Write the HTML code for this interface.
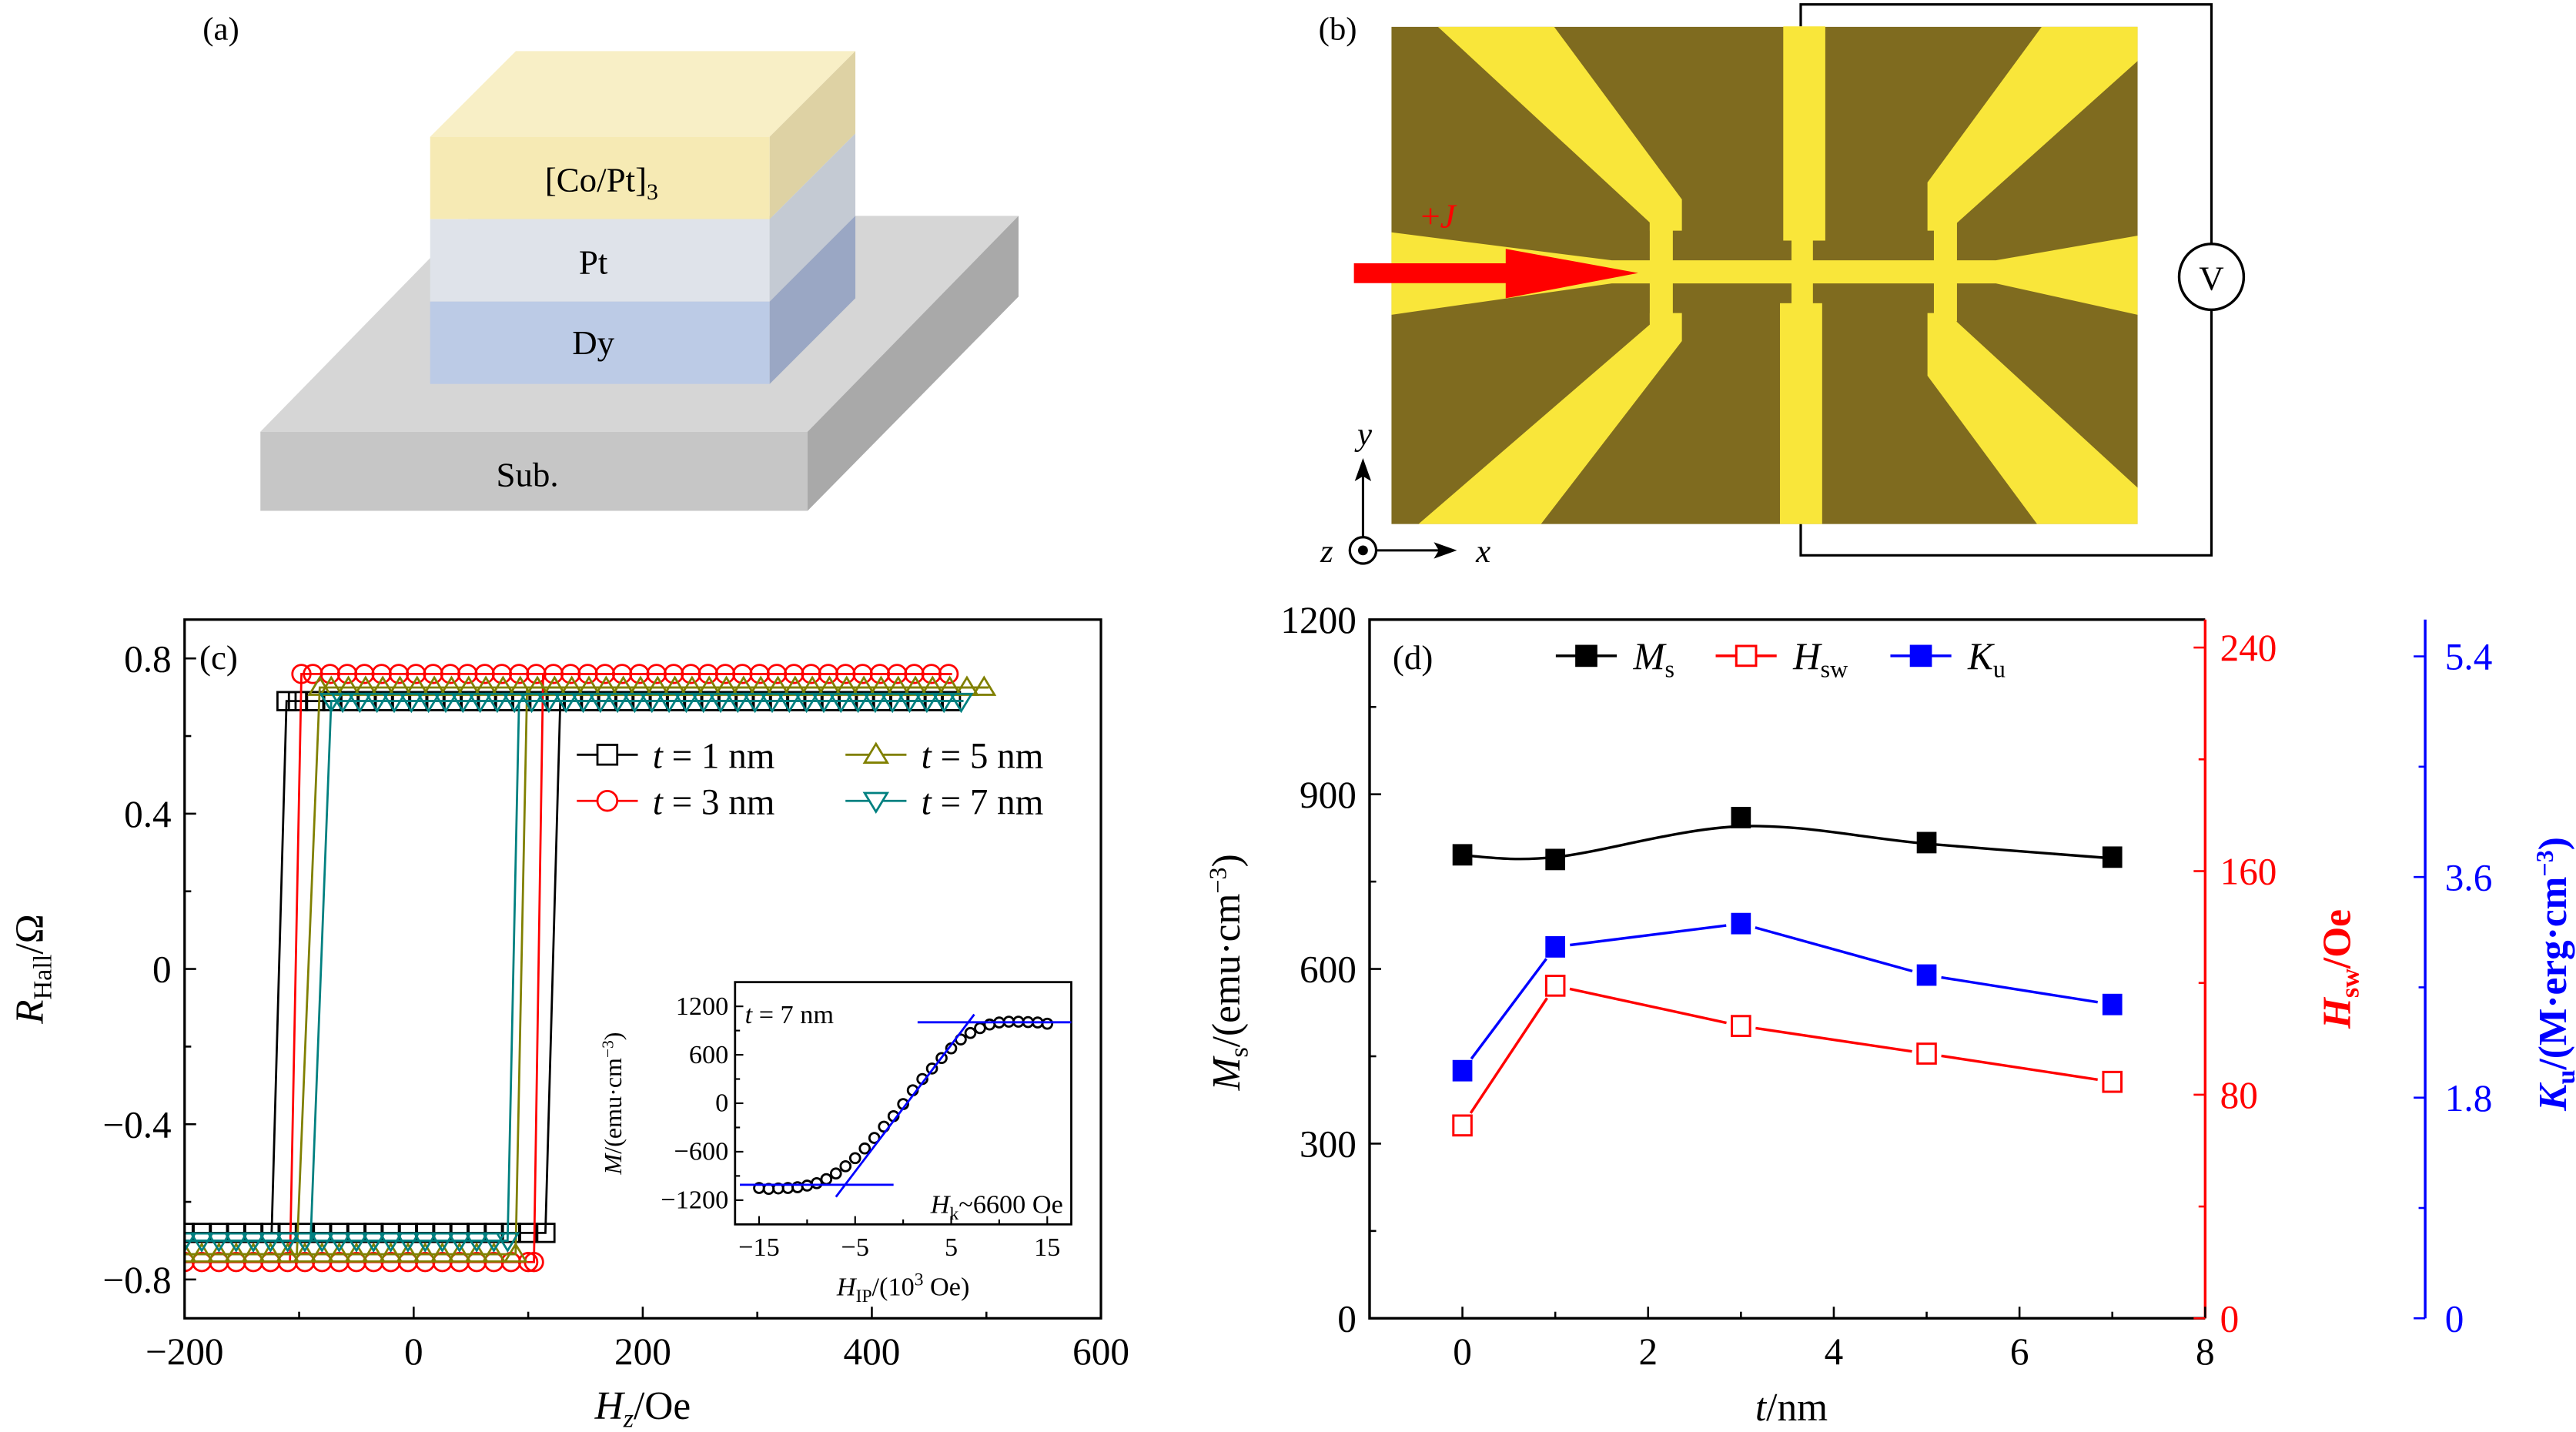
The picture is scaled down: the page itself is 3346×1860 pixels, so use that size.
<!DOCTYPE html>
<html><head><meta charset="utf-8">
<style>
html,body{margin:0;padding:0;background:#fff;}
svg{display:block;font-family:"Liberation Serif",serif;}
</style></head>
<body>
<svg id="fig" width="3346" height="1860" viewBox="0 0 1563 869" preserveAspectRatio="none" xmlns="http://www.w3.org/2000/svg">
<!-- Panel (a) -->
<g>
<text x="123" y="24" font-size="20">(a)</text>
<polygon points="158,262 490,262 618,131 286,131" fill="#d6d6d6"/>
<polygon points="158,262 490,262 490,310 158,310" fill="#c6c6c6"/>
<polygon points="490,262 618,131 618,180 490,310" fill="#a9a9a9"/>
<text x="320" y="295" font-size="21" text-anchor="middle">Sub.</text>
<polygon points="261,83 467,83 519,31 313,31" fill="#f8efc6"/>
<rect x="261" y="83" width="206" height="50" fill="#f6eab4"/>
<polygon points="467,83 519,31 519,81 467,133" fill="#ded2a4"/>
<rect x="261" y="133" width="206" height="50" fill="#dfe3ea"/>
<polygon points="467,133 519,81 519,131 467,183" fill="#c4cad3"/>
<rect x="261" y="183" width="206" height="50" fill="#bccbe6"/>
<polygon points="467,183 519,131 519,181 467,233" fill="#9aa7c4"/>
<text x="365" y="116" font-size="21" text-anchor="middle">[Co/Pt]<tspan font-size="14" dy="5">3</tspan></text>
<text x="360" y="166" font-size="21" text-anchor="middle">Pt</text>
<text x="360" y="215" font-size="21" text-anchor="middle">Dy</text>
</g>
<!-- Panel (b) -->
<g>
<text x="800" y="24" font-size="20">(b)</text>
<polyline points="1092.6,16 1092.6,2.7 1341.8,2.7 1341.8,148" fill="none" stroke="#000" stroke-width="1.5"/>
<polyline points="1341.8,188 1341.8,337 1092.6,337 1092.6,318" fill="none" stroke="#000" stroke-width="1.5"/>
<rect x="844.3" y="16.3" width="452.7" height="301.7" fill="#7f6b1f"/>
<g fill="#f9e63a">
<polygon points="844.3,141 978,158 1211,158 1297,143 1297,191 1211,172 978,172 844.3,191"/>
<polygon points="872.5,16.3 943,16.3 1020.5,121 1020.5,140 1001,140 1001,135"/>
<polygon points="1001,190 1020.5,190 1020.5,207 935,318 860.7,318 1001,197"/>
<polygon points="1238.8,16.3 1297,16.3 1297,37 1187,135.6 1187,140 1169.5,140 1169.5,110.7"/>
<polygon points="1169.5,190 1187,190 1187,195 1297,296 1297,318 1236,318 1169.5,228"/>
<rect x="1001" y="135" width="14" height="60"/>
<rect x="1173.4" y="135" width="14" height="60"/>
<rect x="1082" y="16" width="25.5" height="130"/>
<rect x="1087" y="140" width="13" height="50"/>
<rect x="1080" y="184" width="25.6" height="134"/>
</g>
<polygon points="821.5,159.8 913.6,159.8 913.6,151 994,165.7 913.6,181 913.6,171.8 821.5,171.8" fill="#ff0000"/>
<text x="862" y="138" font-size="21" fill="#ff0000">+<tspan font-style="italic">J</tspan></text>
<ellipse cx="1341.8" cy="168" rx="19.6" ry="20" fill="#fff" stroke="#000" stroke-width="1.6"/>
<text x="1341.8" y="176" font-size="21" text-anchor="middle">V</text>
<circle cx="827" cy="334" r="8" fill="#fff" stroke="#000" stroke-width="1.5"/>
<circle cx="827" cy="334" r="3" fill="#000"/>
<line x1="827" y1="326" x2="827" y2="286" stroke="#000" stroke-width="1.4"/>
<polygon points="827,278 822,292 827,289 832,292" fill="#000"/>
<line x1="835" y1="334" x2="875" y2="334" stroke="#000" stroke-width="1.4"/>
<polygon points="884,334 870,329 873,334 870,339" fill="#000"/>
<text x="828" y="270" font-size="20" font-style="italic" text-anchor="middle">y</text>
<text x="805" y="341" font-size="20" font-style="italic" text-anchor="middle">z</text>
<text x="900" y="341" font-size="20" font-style="italic" text-anchor="middle">x</text>
</g>
<g id="pc"></g>
<g id="pd"></g>
</svg>
<script>
// ===== Panel (c) data =====
const cLabels = ['1', '3', '5', '7'];
const cColors = ['#000000', '#ff0000', '#808000', '#008080'];
const cMarkers = ['square', 'circle', 'triUp', 'triDown'];
const cTop = [0.69, 0.76, 0.725, 0.69];
const cBot = [-0.68, -0.755, -0.735, -0.70];
const cLeftTopH = [-111, -98, -82, -72];
const cLeftBotH = [-124, -108, -102, -90];
const cRightBotH = [115, 105, 89, 82];
const cRightTopH = [128, 113, 99, 92];
const cEndH = [480, 470, 502, 480];
const cXTicks = [-200, 0, 200, 400, 600];
const cYTicks = [0.8, 0.4, 0, -0.4, -0.8];
// inset
const inH = [-15,-14,-13,-12,-11,-10,-9,-8,-7,-6,-5,-4,-3,-2,-1,0,1,2,3,4,5,6,7,8,9,10,11,12,13,14,15];
const inM = [-1050,-1060,-1055,-1050,-1040,-1020,-990,-940,-870,-780,-680,-560,-430,-290,-160,-10,160,300,430,560,680,790,870,930,975,1000,1010,1010,1005,1000,985];
const inXTicks = [-15, -5, 5, 15];
const inYTicks = [1200, 600, 0, -600, -1200];
// ===== Panel (d) data =====
const dT = [0, 1, 3, 5, 7];
const dMs = [796, 788, 860, 817, 792];
const dMsFit = [795, 792, 845, 815, 790];
const dHsw = [69, 119, 104.6, 94.7, 84.6];
const dKu = [2.02, 3.03, 3.22, 2.80, 2.56];
const dXTicks = [0, 2, 4, 6, 8];
const dYTicks = [0, 300, 600, 900, 1200];
const dRTicks = [0, 80, 160, 240];
const dBTicks = [0, 1.8, 3.6, 5.4];

const NS = 'http://www.w3.org/2000/svg';
function mk(tag, parent, a) { const e = document.createElementNS(NS, tag); for (const k in a) e.setAttribute(k, a[k]); parent.appendChild(e); return e; }
function fmt(v) { return (v < 0 ? '\u2212' : '') + Math.abs(v); }

// ---------- Panel c ----------
const pc = document.getElementById('pc');
const cL = 112, cR = 668, cT = 376, cB = 800;
const cx = h => cL + (h + 200) / 800 * (cR - cL);
const cy = r => cT + (0.9 - r) / 1.8 * (cB - cT);
let el;
el = mk('clipPath', pc, {id: 'clipc'});


mk('rect', el, {x: cL, y: cT, width: cR - cL, height: cB - cT});
const cPlot = mk('g', pc, {'clip-path': 'url(#clipc)'});



function marker(parent, type, x, y, color, s) {
  let m;
  if (type === 'square') m = mk('rect', parent, {x: x - s, y: y - s, width: 2 * s, height: 2 * s});
  else if (type === 'circle') m = mk('circle', parent, {cx: x, cy: y, r: s});
  else if (type === 'triUp') m = mk('polygon', parent, {points: `${x},${y - s * 1.1} ${x - s * 1.15},${y + s * 0.8} ${x + s * 1.15},${y + s * 0.8}`});
  else m = mk('polygon', parent, {points: `${x},${y + s * 1.1} ${x - s * 1.15},${y - s * 0.8} ${x + s * 1.15},${y - s * 0.8}`});
  m.setAttribute('fill', 'none');
  m.setAttribute('stroke', color);
  m.setAttribute('stroke-width', '1.3');
  return m;
}

for (let i = 0; i < cLabels.length; i++) {
  const g = mk('g', cPlot, {});
  
  
  const pts = [[-210, cBot[i]], [cRightBotH[i], cBot[i]], [cRightTopH[i], cTop[i]], [cEndH[i], cTop[i]]];
  const pts2 = [[cEndH[i], cTop[i]], [cLeftTopH[i], cTop[i]], [cLeftBotH[i], cBot[i]], [-210, cBot[i]]];
  el = mk('polyline', g, {points: pts.map(p => cx(p[0]) + ',' + cy(p[1])).join(' '), fill: 'none', stroke: cColors[i], 'stroke-width': 1.3});
  
  
  el = mk('polyline', g, {points: pts2.map(p => cx(p[0]) + ',' + cy(p[1])).join(' '), fill: 'none', stroke: cColors[i], 'stroke-width': 1.3});
  
  
  const s = 5.5;
  for (let h = -200; h <= cRightBotH[i] - 5; h += 15) {
    el = marker(g, cMarkers[i], cx(h), cy(cBot[i]), cColors[i], s);
    
    
  }
  el = marker(g, cMarkers[i], cx(cRightBotH[i]), cy(cBot[i]), cColors[i], s);
  
  
  el = marker(g, cMarkers[i], cx(cLeftTopH[i]), cy(cTop[i]), cColors[i], s);
  
  
  for (let h = cLeftTopH[i] + 10; h <= cEndH[i]; h += 15) {
    el = marker(g, cMarkers[i], cx(h), cy(cTop[i]), cColors[i], s);
    
    
  }
}
el = mk('rect', pc, {x: cL, y: cT, width: cR - cL, height: cB - cT, fill: 'none', stroke: '#000', 'stroke-width': 1.5});


for (let v = -200; v <= 600; v += 100) {
  const major = cXTicks.includes(v);
  el = mk('line', pc, {x1: cx(v), x2: cx(v), y1: cB, y2: cB - (major ? 7 : 4), stroke: '#000', 'stroke-width': 1.2});
  
  
}
cXTicks.forEach(v => {
  el = mk('text', pc, {x: cx(v), y: 828, 'font-size': 23, 'text-anchor': 'middle'});
  el.textContent = fmt(v);
  
  
});
for (let k = -8; k <= 8; k += 2) {
  const v = k / 10;
  const major = k % 4 === 0;
  el = mk('line', pc, {x1: cL, x2: cL + (major ? 7 : 4), y1: cy(v), y2: cy(v), stroke: '#000', 'stroke-width': 1.2});
  
  
}
cYTicks.forEach(v => {
  el = mk('text', pc, {x: cL - 8, y: cy(v) + 8, 'font-size': 23, 'text-anchor': 'end'});
  el.textContent = fmt(v);
  
  
});
el = mk('text', pc, {x: 121, y: 406, 'font-size': 21});
el.textContent = '(c)';


el = mk('text', pc, {x: 390, y: 861, 'font-size': 24, 'text-anchor': 'middle'});
el.innerHTML = '<tspan font-style="italic">H</tspan><tspan font-style="italic" font-size="16" dy="5">z</tspan><tspan dy="-5">/Oe</tspan>';


el = mk('text', pc, {x: 0, y: 0, 'font-size': 24, 'text-anchor': 'middle', transform: 'translate(26,588) rotate(-90)'});
el.innerHTML = '<tspan font-style="italic">R</tspan><tspan font-size="16" dy="5">Hall</tspan><tspan dy="-5">/Ω</tspan>';


// legend c
const legPos = [[350, 458], [350, 486], [513, 458], [513, 486]];
for (let i = 0; i < 4; i++) {
  const [lx, ly] = legPos[i];
  const g = mk('g', pc, {});
  
  
  el = mk('line', g, {x1: lx, x2: lx + 37, y1: ly, y2: ly, stroke: cColors[i], 'stroke-width': 1.3});
  
  
  el = marker(g, cMarkers[i], lx + 18.5, ly, cColors[i], 6);
  el.setAttribute('fill', '#fff');
  
  
  el = mk('text', g, {x: lx + 46, y: ly + 8, 'font-size': 22});
  el.innerHTML = '<tspan font-style="italic">t</tspan> = ' + cLabels[i] + ' nm';
  
  
}
// inset
const iL = 446, iR = 650, iT = 596, iB = 743;
const ix = h => iL + (h + 17.5) / 35 * (iR - iL);
const iy = m => iT + (1500 - m) / 3000 * (iB - iT);
const inset = mk('g', pc, {});


el = mk('rect', inset, {x: iL, y: iT, width: iR - iL, height: iB - iT, fill: '#fff', stroke: '#000', 'stroke-width': 1.3});


for (let v = -15; v <= 15; v += 5) {
  const major = inXTicks.includes(v);
  el = mk('line', inset, {x1: ix(v), x2: ix(v), y1: iB, y2: iB - (major ? 5 : 3), stroke: '#000', 'stroke-width': 1});
  
  
}
inXTicks.forEach(v => {
  el = mk('text', inset, {x: ix(v), y: iB + 19, 'font-size': 16, 'text-anchor': 'middle'});
  el.textContent = fmt(v);
  
  
});
for (let v = -1200; v <= 1200; v += 300) {
  const major = inYTicks.includes(v);
  el = mk('line', inset, {x1: iL, x2: iL + (major ? 5 : 3), y1: iy(v), y2: iy(v), stroke: '#000', 'stroke-width': 1});
  
  
}
inYTicks.forEach(v => {
  el = mk('text', inset, {x: iL - 4, y: iy(v) + 5, 'font-size': 16, 'text-anchor': 'end'});
  el.textContent = fmt(v);
  
  
});
for (let k = 0; k < inH.length; k++) {
  el = mk('circle', inset, {cx: ix(inH[k]), cy: iy(inM[k]), r: 3, fill: 'none', stroke: '#000', 'stroke-width': 1.3});
  
  
}
el = mk('line', inset, {x1: ix(1.5), x2: iR, y1: iy(1003), y2: iy(1003), stroke: '#0000ff', 'stroke-width': 1.3});


el = mk('line', inset, {x1: ix(-17), x2: ix(-1), y1: iy(-1010), y2: iy(-1010), stroke: '#0000ff', 'stroke-width': 1.3});


el = mk('line', inset, {x1: ix(-7), x2: ix(7.4), y1: iy(-1160), y2: iy(1100), stroke: '#0000ff', 'stroke-width': 1.3});


el = mk('text', inset, {x: 452, y: 621, 'font-size': 16});
el.innerHTML = '<tspan font-style="italic">t</tspan> = 7 nm';


el = mk('text', inset, {x: 645, y: 736, 'font-size': 16, 'text-anchor': 'end'});
el.innerHTML = '<tspan font-style="italic">H</tspan><tspan font-size="11" dy="4">k</tspan><tspan dy="-4">~6600 Oe</tspan>';


el = mk('text', inset, {x: 548, y: 786, 'font-size': 16, 'text-anchor': 'middle'});
el.innerHTML = '<tspan font-style="italic">H</tspan><tspan font-size="11" dy="4">IP</tspan><tspan dy="-4">/(10</tspan><tspan font-size="11" dy="-6">3</tspan><tspan dy="6"> Oe)</tspan>';


el = mk('text', inset, {x: 0, y: 0, 'font-size': 15, 'text-anchor': 'middle', transform: `translate(377,${(iT + iB) / 2}) rotate(-90)`});
el.innerHTML = '<tspan font-style="italic">M</tspan>/(emu·cm<tspan font-size="10" dy="-5">−3</tspan><tspan dy="5">)</tspan>';



// ---------- Panel d ----------
const pd = document.getElementById('pd');
const dL = 831, dR = 1338, dTp = 376, dBt = 800, bAx = 1471.5;
const dx = t => dL + (t + 1) / 9 * (dR - dL);
const dyL = v => dBt - v / 1200 * (dBt - dTp);
const dyR = v => dBt - v / 250 * (dBt - dTp);
const dyB = v => dBt - v / 5.7 * (dBt - dTp);
el = mk('polyline', pd, {points: `${dR},${dTp} ${dL},${dTp} ${dL},${dBt} ${dR},${dBt}`, fill: 'none', stroke: '#000', 'stroke-width': 1.6});


el = mk('line', pd, {x1: dR, x2: dR, y1: dTp, y2: dBt, stroke: '#ff0000', 'stroke-width': 1.6});


el = mk('line', pd, {x1: bAx, x2: bAx, y1: dTp, y2: dBt, stroke: '#0000ff', 'stroke-width': 1.6});


for (let v = 0; v <= 8; v++) {
  const major = dXTicks.includes(v);
  el = mk('line', pd, {x1: dx(v), x2: dx(v), y1: dBt, y2: dBt - (major ? 7 : 4), stroke: '#000', 'stroke-width': 1.2});
  
  
}
dXTicks.forEach(v => {
  el = mk('text', pd, {x: dx(v), y: 828, 'font-size': 23, 'text-anchor': 'middle'});
  el.textContent = fmt(v);
  
  
});
for (let v = 0; v <= 1200; v += 150) {
  const major = dYTicks.includes(v);
  el = mk('line', pd, {x1: dL, x2: dL + (major ? 7 : 4), y1: dyL(v), y2: dyL(v), stroke: '#000', 'stroke-width': 1.2});
  
  
}
dYTicks.forEach(v => {
  el = mk('text', pd, {x: dL - 8, y: dyL(v) + 8, 'font-size': 23, 'text-anchor': 'end'});
  el.textContent = fmt(v);
  
  
});
for (let v = 0; v <= 240; v += 40) {
  const major = dRTicks.includes(v);
  el = mk('line', pd, {x1: dR, x2: dR - (major ? 7 : 4), y1: dyR(v), y2: dyR(v), stroke: '#ff0000', 'stroke-width': 1.2});
  
  
}
dRTicks.forEach(v => {
  el = mk('text', pd, {x: dR + 9, y: dyR(v) + 8, 'font-size': 23, fill: '#ff0000'});
  el.textContent = fmt(v);
  
  
});
for (let k = 0; k <= 6; k++) {
  const v = k * 0.9;
  const major = k % 2 === 0;
  el = mk('line', pd, {x1: bAx, x2: bAx - (major ? 7 : 4), y1: dyB(v), y2: dyB(v), stroke: '#0000ff', 'stroke-width': 1.2});
  
  
}
dBTicks.forEach(v => {
  el = mk('text', pd, {x: bAx + 12, y: dyB(v) + 8, 'font-size': 23, fill: '#0000ff'});
  el.textContent = String(v);
  
  
});
function seg(pts, color, name) {
  for (let k = 0; k < pts.length - 1; k++) {
    const [x1, y1] = pts[k], [x2, y2] = pts[k + 1];
    const L = Math.hypot(x2 - x1, y2 - y1), g = 9 / L;
    el = mk('line', pd, {x1: x1 + (x2 - x1) * g, y1: y1 + (y2 - y1) * g, x2: x2 - (x2 - x1) * g, y2: y2 - (y2 - y1) * g, stroke: color, 'stroke-width': 1.6});
    
    
  }
}
const fp = dT.map((t, k) => [dx(t), dyL(dMsFit[k])]);
let dpath = `M${fp[0][0]},${fp[0][1]}`;
for (let k = 0; k < fp.length - 1; k++) {
  const p0 = fp[Math.max(0, k - 1)], p1 = fp[k], p2 = fp[k + 1], p3 = fp[Math.min(fp.length - 1, k + 2)];
  dpath += ` C${p1[0] + (p2[0] - p0[0]) / 6},${p1[1] + (p2[1] - p0[1]) / 6} ${p2[0] - (p3[0] - p1[0]) / 6},${p2[1] - (p3[1] - p1[1]) / 6} ${p2[0]},${p2[1]}`;
}
el = mk('path', pd, {d: dpath, fill: 'none', stroke: '#000', 'stroke-width': 1.6});


seg(dT.map((t, k) => [dx(t), dyR(dHsw[k])]), '#ff0000', 'hsw-line');
seg(dT.map((t, k) => [dx(t), dyB(dKu[k])]), '#0000ff', 'ku-line');
dT.forEach((t, k) => {
  el = mk('rect', pd, {x: dx(t) - 6, y: dyL(dMs[k]) - 6.5, width: 12, height: 13, fill: '#000'});
  
  
  el = mk('rect', pd, {x: dx(t) - 5.5, y: dyR(dHsw[k]) - 6, width: 11, height: 12, fill: '#fff', stroke: '#ff0000', 'stroke-width': 1.4});
  
  
  el = mk('rect', pd, {x: dx(t) - 6, y: dyB(dKu[k]) - 6.5, width: 12, height: 13, fill: '#0000ff'});
  
  
});
const dLeg = [[944, '#000', '#000', 'M', 's'], [1041, '#ff0000', '#fff', 'H', 'sw'], [1147, '#0000ff', '#0000ff', 'K', 'u']];
dLeg.forEach(([lx, c, f, sym, sub]) => {
  const g = mk('g', pd, {});
  
  
  el = mk('line', g, {x1: lx, x2: lx + 37, y1: 398, y2: 398, stroke: c, 'stroke-width': 1.6});
  
  
  el = mk('rect', g, {x: lx + 12.5, y: 392, width: 12, height: 12, fill: f, stroke: c, 'stroke-width': 1.4});
  
  
  el = mk('text', g, {x: lx + 47, y: 406, 'font-size': 23});
  el.innerHTML = `<tspan font-style="italic">${sym}</tspan><tspan font-size="15" dy="5">${sub}</tspan>`;
  
  
});
el = mk('text', pd, {x: 845, y: 406, 'font-size': 21});
el.textContent = '(d)';


el = mk('text', pd, {x: 1087, y: 862, 'font-size': 24, 'text-anchor': 'middle'});
el.innerHTML = '<tspan font-style="italic">t</tspan>/nm';


el = mk('text', pd, {x: 0, y: 0, 'font-size': 24, 'text-anchor': 'middle', transform: 'translate(752,590) rotate(-90)'});
el.innerHTML = '<tspan font-style="italic">M</tspan><tspan font-size="16" dy="5">s</tspan><tspan dy="-5">/(emu·cm</tspan><tspan font-size="15" dy="-8">−3</tspan><tspan dy="8">)</tspan>';


el = mk('text', pd, {x: 0, y: 0, 'font-size': 24, 'text-anchor': 'middle', fill: '#ff0000', 'font-weight': 'bold', transform: 'translate(1426,588) rotate(-90)'});
el.innerHTML = '<tspan font-style="italic">H</tspan><tspan font-size="16" dy="5">sw</tspan><tspan dy="-5">/Oe</tspan>';


el = mk('text', pd, {x: 0, y: 0, 'font-size': 24, 'text-anchor': 'middle', fill: '#0000ff', 'font-weight': 'bold', transform: 'translate(1557,591) rotate(-90)'});
el.innerHTML = '<tspan font-style="italic">K</tspan><tspan font-size="16" dy="5">u</tspan><tspan dy="-5">/(M·erg·cm</tspan><tspan font-size="15" dy="-8">−3</tspan><tspan dy="8">)</tspan>';


</script>
</body></html>
